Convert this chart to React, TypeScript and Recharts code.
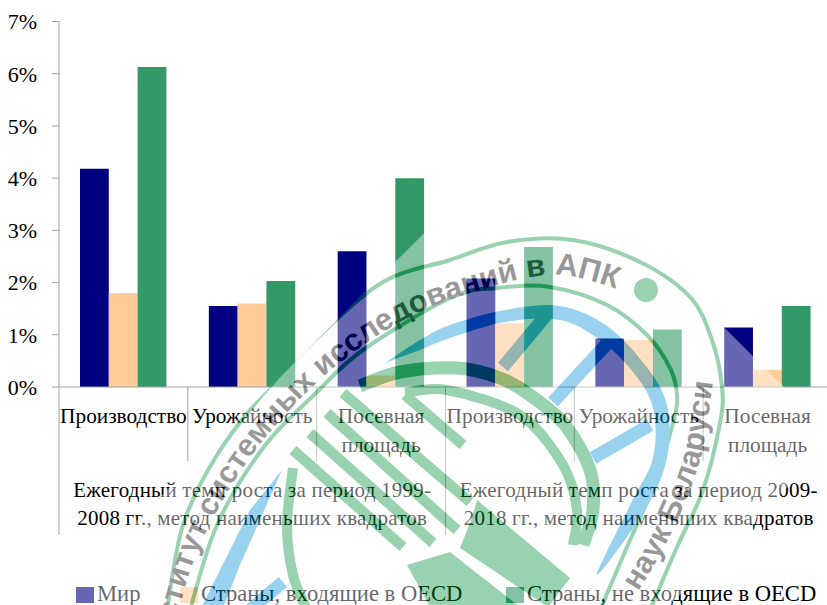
import React from 'react';
import { BarChart, Bar, XAxis, YAxis, Legend } from 'recharts';

const categories = ['Производство', 'Урожайность', 'Посевная площадь', 'Производство', 'Урожайность', 'Посевная площадь'];
const worldValues = [4.18, 1.55, 2.6, 2.08, 0.93, 1.14];
const oecdValues = [1.8, 1.6, 0.22, 1.22, 0.9, 0.33];
const nonOecdValues = [6.13, 2.03, 4.0, 2.68, 1.1, 1.55];
const yTicks = [0, 1, 2, 3, 4, 5, 6, 7];
const groupLabels = [
  ['Ежегодный темп роста за период 1999-', '2008 гг., метод наименьших квадратов'],
  ['Ежегодный темп роста за период 2009-', '2018 гг., метод наименьших квадратов'],
];
const seriesNames = ['Мир', 'Страны, входящие в OECD', 'Страны, не входящие в OECD'];
const seriesColors = ['#000080', '#FFCC99', '#339966'];

const data = categories.map((category, i) => ({
  category,
  world: worldValues[i],
  oecd: oecdValues[i],
  nonOecd: nonOecdValues[i],
}));

const SERIF = '"Liberation Serif", serif';
const AXIS_COLOR = '#a0a0a0';
const BAND = 128.83;

const CategoryTick = ({ x, index, payload }: any) => {
  const lines = String(payload.value).split(' ');
  const isGroupStart = index % 3 === 0;
  const left = x - BAND / 2;
  const group = groupLabels[Math.floor(index / 3)];
  return (
    <g fontFamily={SERIF} fill="#000" textAnchor="middle">
      <line x1={left} x2={left} y1={387} y2={isGroupStart ? 535 : 461} stroke={AXIS_COLOR} />
      {index === categories.length - 1 && (
        <line x1={left + BAND} x2={left + BAND} y1={387} y2={535} stroke={AXIS_COLOR} />
      )}
      {lines.map((line, i) => (
        <text key={line} x={x} y={423 + i * 29} fontSize={21.3}>{line}</text>
      ))}
      {isGroupStart && group.map((line, i) => (
        <text key={line} x={x + BAND} y={497 + i * 28} fontSize={21} letterSpacing={0.22}>{line}</text>
      ))}
    </g>
  );
};

const LegendRow = () => {
  const lefts = [76, 180, 506];
  return (
    <div style={{ position: 'relative', height: 24, fontFamily: SERIF, fontSize: 22.6 }}>
      {seriesNames.map((name, i) => (
        <div key={name} style={{ position: 'absolute', left: lefts[i], top: 1, whiteSpace: 'nowrap', lineHeight: '24px' }}>
          <span style={{ display: 'inline-block', width: 18, height: 16, marginRight: 3, verticalAlign: -2, background: seriesColors[i] }} />
          {name}
        </div>
      ))}
    </div>
  );
};

// stamp laid over the chart, drawn with group opacity like the pasted picture
const smooth = (p: number[][]) => {
  let d = `M${p[0][0]} ${p[0][1]}`;
  for (let i = 0; i < p.length - 1; i++) {
    const a = p[Math.max(i - 1, 0)], b = p[i], c = p[i + 1], e = p[Math.min(i + 2, p.length - 1)];
    d += `C${b[0] + (c[0] - a[0]) / 6} ${b[1] + (c[1] - a[1]) / 6} ${c[0] - (e[0] - b[0]) / 6} ${c[1] - (e[1] - b[1]) / 6} ${c[0]} ${c[1]}`;
  }
  return d;
};
const poly = (p: number[][]) => 'M' + p.map(q => q.join(' ')).join('L') + 'Z';

const outerRing = [[167, 610], [183, 525], [217, 455], [268, 388], [317, 338], [383, 282], [450, 260], [507, 242], [573, 240], [640, 262], [690, 297], [712, 340], [722, 387], [720, 423], [703, 490], [677, 547], [650, 610]];
const innerRing = [[190, 610], [217, 525], [263, 448], [317, 392], [363, 350], [450, 298], [497, 288], [550, 287], [607, 305], [647, 335], [670, 368], [677, 395], [673, 423], [653, 487], [627, 547], [600, 610]];
const greenBands = [
  { w: 13, p: [[360, 386], [400, 372], [457, 368], [500, 378], [530, 395], [565, 425], [590, 470], [593, 510], [583, 545]] },
  { w: 10, p: [[405, 393], [447, 390], [520, 415], [563, 465], [577, 510], [573, 545]] },
  { w: 10, p: [[293, 468], [287, 525], [293, 575], [307, 610]] },
];
const stripes = [
  [[405, 395], [463, 445]],
  [[343, 393], [470, 502]],
  [[327, 413], [457, 530]],
  [[310, 433], [433, 543]],
  [[293, 450], [403, 547]],
];
const greenBlocks = [
  [[477, 500], [570, 578], [548, 607], [460, 548], [472, 518]],
  [[407, 565], [450, 552], [520, 607], [430, 607]],
];
const blueCrescent = [[385, 363], [420, 340], [450, 325], [505, 310], [560, 306], [607, 326], [645, 365], [667, 405], [667, 458], [645, 510], [597, 575], [630, 505], [653, 458], [653, 408], [633, 372], [600, 340], [560, 320], [505, 322], [450, 338], [420, 350]];
const blueLeft = [[282, 470], [250, 510], [225, 560], [200, 610], [222, 610], [240, 565], [262, 515]];
const blueStrokes = [
  [[548, 313], [503, 367]],
  [[553, 402], [615, 335]],
  [[593, 458], [650, 425]],
  [[283, 582], [250, 610]],
];

const Stamp = () => (
  <svg width={827} height={605} style={{ position: 'absolute', left: 0, top: 0, pointerEvents: 'none' }} opacity={0.4}>
    <defs>
      <clipPath id="stampEdge"><path d="M527 130L836 439L670 605L52 605Z" /></clipPath>
      <path id="stampLeftText" d={smooth([[150, 700], [170, 640], [200, 545], [252, 455], [322, 378], [400, 322], [480, 290], [560, 275], [640, 297]])} />
      <path id="stampRightText" d={smooth([[620, 620], [668, 540], [700, 460], [713, 382]])} />
    </defs>
    <g clipPath="url(#stampEdge)">
      <path d="M527 130L836 439L670 605L52 605Z" fill="#fff" />
      <g fill="none" stroke="#00913a">
        <path d={smooth(outerRing)} strokeWidth={4} />
        <path d={smooth(innerRing)} strokeWidth={4} />
        {greenBands.map((b, i) => <path key={i} d={smooth(b.p)} strokeWidth={b.w} />)}
        {stripes.map((s, i) => <path key={i} d={poly(s)} strokeWidth={10.5} />)}
      </g>
      <g fill="#00913a">
        {greenBlocks.map((b, i) => <path key={i} d={poly(b)} />)}
        <circle cx={646} cy={290} r={12} />
      </g>
      <g fill="#0091d7">
        <path d={smooth(blueCrescent) + 'Z'} />
        <path d={poly(blueLeft)} />
      </g>
      <g stroke="#0091d7" strokeWidth={13} fill="none">
        {blueStrokes.map((s, i) => <path key={i} d={poly(s)} />)}
      </g>
      <g fontFamily='"Liberation Sans", sans-serif' fontWeight="bold" fontSize={31} fill="#000">
        <text><textPath href="#stampLeftText" startOffset={43}>Институт системных исследований в АПК</textPath></text>
        <text textAnchor="end"><textPath href="#stampRightText" startOffset="100%">наук Беларуси</textPath></text>
      </g>
    </g>
  </svg>
);

export default function App() {
  return (
    <div style={{ position: 'fixed', left: 0, top: 0, width: 827, height: 605, overflow: 'hidden', background: '#fff' }}>
      <BarChart
        width={840}
        height={605}
        data={data}
        barSize={28.8}
        barGap={0}
        margin={{ top: 21.5, right: 8, bottom: 0, left: 0 }}
      >
        <YAxis
          width={59}
          domain={[0, 7]}
          ticks={yTicks}
          interval={0}
          tickFormatter={(v: number) => `${v}%`}
          tick={{ fontFamily: SERIF, fontSize: 22, fill: '#000' }}
          tickSize={7}
          tickMargin={15}
          axisLine={{ stroke: AXIS_COLOR }}
          tickLine={{ stroke: AXIS_COLOR }}
        />
        <XAxis
          dataKey="category"
          height={194}
          interval={0}
          tick={CategoryTick}
          tickLine={false}
          axisLine={{ stroke: AXIS_COLOR }}
        />
        <Legend content={LegendRow} verticalAlign="bottom" height={24} wrapperStyle={{ left: 0, bottom: 0, width: 827 }} />
        <Bar dataKey="world" name={seriesNames[0]} fill={seriesColors[0]} isAnimationActive={false} />
        <Bar dataKey="oecd" name={seriesNames[1]} fill={seriesColors[1]} isAnimationActive={false} />
        <Bar dataKey="nonOecd" name={seriesNames[2]} fill={seriesColors[2]} isAnimationActive={false} />
      </BarChart>
      <Stamp />
    </div>
  );
}
